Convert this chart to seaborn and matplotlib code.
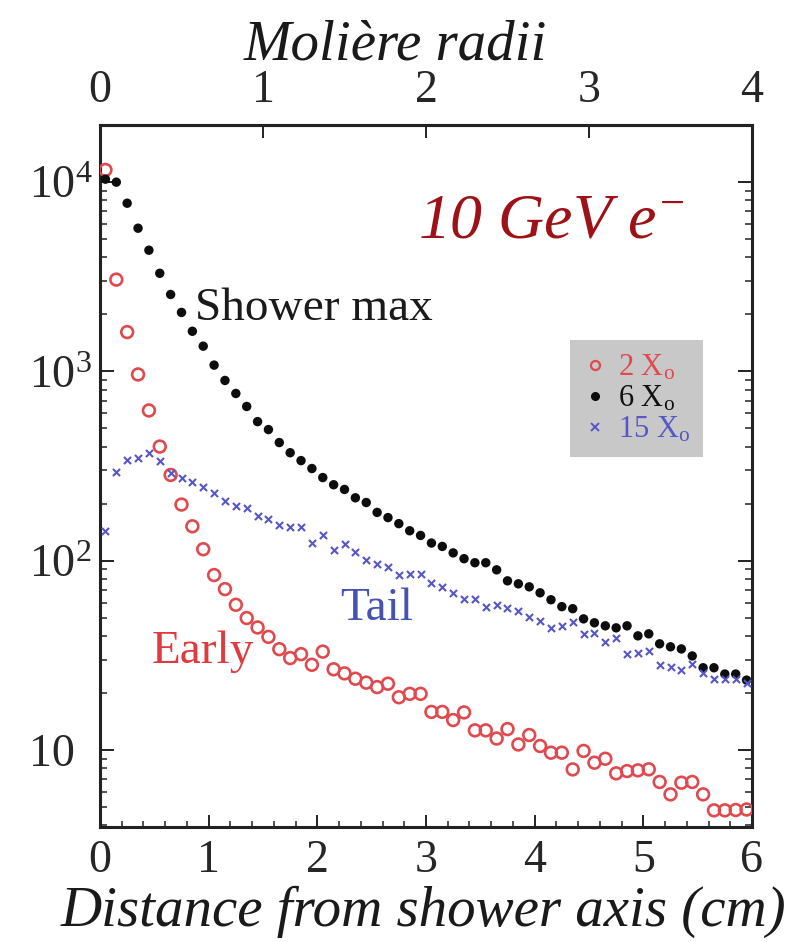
import numpy as np
import pandas as pd
import matplotlib
matplotlib.use("Agg")
import matplotlib.pyplot as plt
from matplotlib.lines import Line2D
from matplotlib.ticker import LogLocator, FixedLocator, MultipleLocator, NullFormatter
import seaborn as sns

# ---------------- data ----------------
distance_cm = np.round(np.arange(0.05, 6.0, 0.1), 2)   # bin centres (cm)

early_2X0 = [11600, 3056, 1614, 964, 622, 401, 284, 198, 152, 115,
             84, 70.8, 58.5, 49.8, 44.4, 39.6, 34.1, 30.6, 32.1, 28.2,
             33.1, 26.7, 25.4, 23.8, 22.7, 21.5, 22.4, 19.0, 19.8, 19.8,
             15.9, 15.9, 14.4, 15.8, 12.7, 12.7, 11.5, 12.9, 10.7, 12.0,
             10.5, 9.68, 9.68, 7.9, 9.89, 8.57, 8.99, 7.53, 7.74, 7.81,
             7.91, 6.78, 5.83, 6.72, 6.78, 5.83, 4.80, 4.80, 4.82, 4.85]

showermax_6X0 = [10370, 10000, 7740, 5710, 4370, 3300, 2550, 2050, 1630, 1360,
                 1080, 896, 765, 653, 543, 493, 421, 372, 338, 307,
                 275, 252, 238, 215, 203, 180, 169, 157, 144, 136,
                 124, 119, 110, 102.5, 97.6, 97.6, 89.5, 78.3, 75.5, 72.8,
                 67.7, 62.2, 57.2, 55.8, 49.3, 47, 45.3, 44.2, 45.3, 40.1,
                 41.1, 36.4, 35.1, 34.2, 31.4, 27.2, 27.2, 25.2, 25.2, 23.4]

tail_15X0 = [144, 293, 342, 351, 370, 335, 290, 275, 262, 246,
             227, 206, 195, 189, 173, 167, 155, 150, 150, 124,
             136, 114, 122, 111, 101, 96.4, 92.3, 84.3, 85.3, 85.3,
             75.9, 72.8, 67.9, 62.9, 62.9, 57.2, 58.5, 56.6, 54.4, 50.6,
             48.2, 44.2, 45, 47.2, 41.1, 41.3, 37, 39.3, 32.2, 32.7,
             33.4, 28.2, 27.3, 26.5, 28.5, 25.5, 23.8, 23.8, 23.8, 22.6]

series_labels = [r"2 X$_\mathregular{o}$", r"6 X$_\mathregular{o}$", r"15 X$_\mathregular{o}$"]
bottom_ticks = [0, 1, 2, 3, 4, 5, 6]
top_ticks = [0, 1, 2, 3, 4]
y_ticks = [10, 100, 1000, 10000]
y_ticklabels = [r"10", r"10$^\mathregular{2}$", r"10$^\mathregular{3}$", r"10$^\mathregular{4}$"]

RED = "#e04a4f"
BLACK = "#0d0d0d"
BLUE = "#5656c6"

# ---------------- style ----------------
sns.set_theme(style="ticks")
plt.rcParams["font.family"] = ["Liberation Serif", "DejaVu Serif"]
plt.rcParams["mathtext.fontset"] = "custom"
plt.rcParams["mathtext.rm"] = "Liberation Serif"
plt.rcParams["mathtext.it"] = "Liberation Serif:italic"
plt.rcParams["mathtext.default"] = "regular"

fig = plt.figure(figsize=(7.93, 9.42), dpi=100)
fig.patch.set_facecolor("white")
ax = fig.add_axes([100 / 793, 1 - 827 / 942, 652 / 793, 702 / 942])
ax.set_facecolor("white")

df = pd.DataFrame({"x": distance_cm, "early": early_2X0,
                   "max": showermax_6X0, "tail": tail_15X0})

sns.scatterplot(data=df, x="x", y="early", ax=ax, marker="o", s=72,
                facecolors="none", edgecolor=RED, linewidth=1.9, zorder=3)
sns.scatterplot(data=df, x="x", y="max", ax=ax, marker="o", s=46,
                color=BLACK, edgecolor="none", zorder=4)
sns.scatterplot(data=df, x="x", y="tail", ax=ax, marker="x", s=26,
                color=BLUE, linewidth=1.5, zorder=5)

ax.set_yscale("log")
ax.set_xlim(0, 6)
ax.set_ylim(3.92, 2.004e4)
ax.set_xlabel("")
ax.set_ylabel("")

for s in ax.spines.values():
    s.set_linewidth(2.2)
    s.set_color("#222222")

ax.xaxis.set_major_locator(FixedLocator(bottom_ticks))
ax.xaxis.set_minor_locator(MultipleLocator(0.2))
ax.set_xticklabels([str(t) for t in bottom_ticks])
ax.yaxis.set_major_locator(FixedLocator(y_ticks))
ax.yaxis.set_minor_locator(LogLocator(base=10, subs=np.arange(2, 10), numticks=20))
ax.yaxis.set_minor_formatter(NullFormatter())
ax.set_yticklabels(y_ticklabels)

ax.tick_params(axis="x", which="both", direction="in", top=False, bottom=True,
               labelsize=33, pad=9, color="#222222")
ax.tick_params(axis="x", which="major", length=9, width=1.4)
ax.tick_params(axis="x", which="minor", length=4, width=1.1)
ax.tick_params(axis="y", which="both", direction="in", left=True, right=True,
               labelsize=33, pad=51, color="#222222")
ax.tick_params(axis="y", which="major", length=10, width=1.4)
ax.tick_params(axis="y", which="minor", length=5, width=1.1)
for lab in ax.get_yticklabels():
    lab.set_horizontalalignment("left")

# top axis in Moliere radii (R_M = 1.5 cm)
sec = ax.secondary_xaxis("top", functions=(lambda x: x / 1.5, lambda r: r * 1.5))
sec.xaxis.set_major_locator(FixedLocator(top_ticks))
sec.xaxis.set_minor_locator(FixedLocator([]))
sec.set_xticklabels([str(t) for t in top_ticks])
sec.tick_params(direction="in", length=9, width=1.4, labelsize=33, pad=9, color="#222222")
sec.spines["top"].set_linewidth(2.2)

fig.text(395 / 793, 1 - 60 / 942, "Molière radii", fontsize=41, style="italic",
         ha="center", va="baseline", color="#1a1a1a")
fig.text(423 / 793, 1 - 926 / 942, "Distance from shower axis (cm)", fontsize=41,
         style="italic", ha="center", va="baseline", color="#1a1a1a")

# annotations
ax.text(0.488, 0.840, r"10 GeV e$^{\mathregular{-}}$", transform=ax.transAxes,
        fontsize=46, style="italic", color="#9e1116", ha="left", va="baseline")
ax.text(0.146, 0.722, "Shower max", transform=ax.transAxes, fontsize=34,
        color="#1a1a1a", ha="left", va="baseline")
ax.text(0.368, 0.295, "Tail", transform=ax.transAxes, fontsize=34,
        color="#4652b4", ha="left", va="baseline")
ax.text(0.080, 0.234, "Early", transform=ax.transAxes, fontsize=34,
        color="#e03a40", ha="left", va="baseline")

# legend
handles = [
    Line2D([], [], ls="none", marker="o", ms=6.5, mfc="none", mec=RED, mew=1.6),
    Line2D([], [], ls="none", marker="o", ms=5.5, mfc=BLACK, mec=BLACK),
    Line2D([], [], ls="none", marker="x", ms=5.5, mec=BLUE, mew=1.4),
]
leg = ax.legend(handles, series_labels, loc="upper left",
                bbox_to_anchor=((570 - 100) / 652, (827 - 340) / 702),
                frameon=True, fancybox=False, fontsize=22,
                handlelength=0.8, handletextpad=0.35, labelspacing=0.05,
                borderpad=0.42, borderaxespad=0)
leg.get_frame().set_facecolor("#c8c8c8")
leg.get_frame().set_edgecolor("none")
leg.get_frame().set_alpha(1)
for t, c in zip(leg.get_texts(), [RED, "#111111", BLUE]):
    t.set_color(c)

fig.savefig("out.png", dpi=100, facecolor="white")
